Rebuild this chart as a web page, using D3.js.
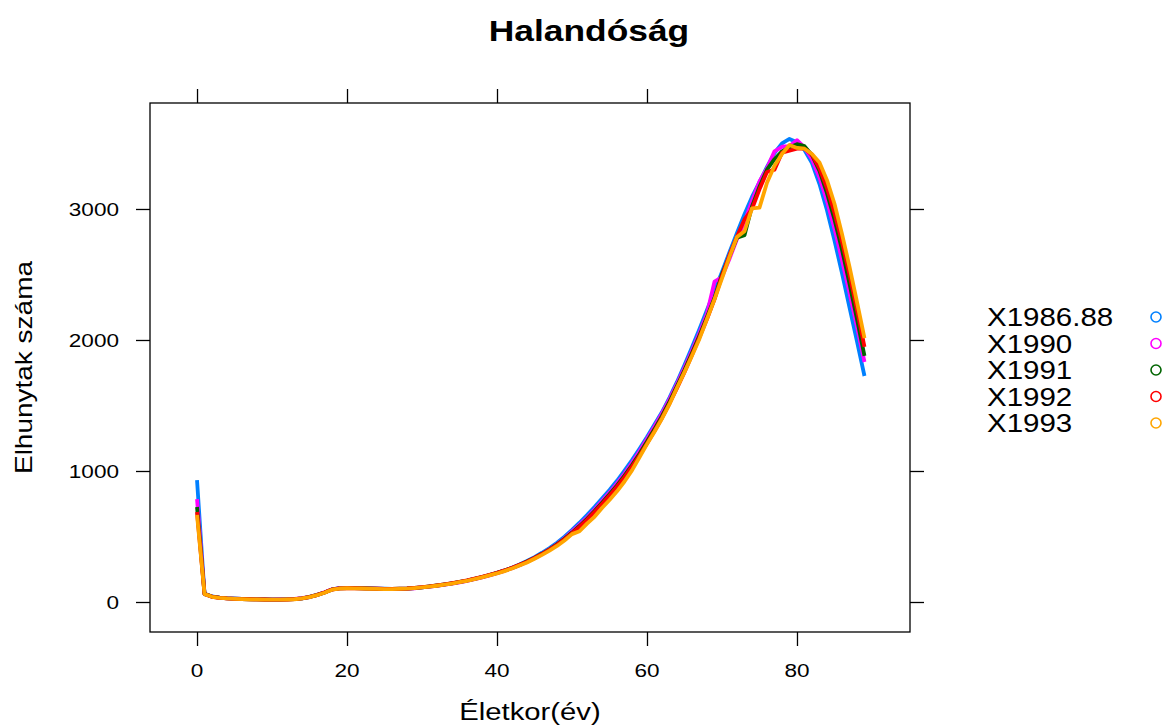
<!DOCTYPE html>
<html>
<head>
<meta charset="utf-8">
<script src="https://cdn.jsdelivr.net/npm/d3@7"></script>
<style>
  html, body { margin: 0; padding: 0; background: #fff; }
  svg { display: block; }
  text { font-family: "Liberation Sans", Arial, Helvetica, sans-serif; fill: #000; }
</style>
</head>
<body>
<svg id="chart" width="1167" height="727"></svg>
<script>
const title = "Halandóság";
const xLabel = "Életkor(év)";
const yLabel = "Elhunytak száma";
const xTicks = [0, 20, 40, 60, 80];
const yTicks = [0, 1000, 2000, 3000];
const seriesNames = ["X1986.88", "X1990", "X1991", "X1992", "X1993"];
const seriesColors = ["#0080ff", "#ff00ff", "#006400", "#ff0000", "#ffa500"];
const ages = d3.range(0, 90);

const s1986 = [931, 60, 42, 34, 29, 26, 24, 22, 21, 20,
  19, 19, 20, 22, 28, 38, 52, 72, 96, 106,
  108, 107, 106, 104, 102, 101, 100, 100, 102, 106,
  112, 118, 125, 133, 142, 152, 163, 176, 190, 205,
  222, 241, 262, 286, 313, 343, 376, 412, 452, 498,
  550, 605, 663, 725, 790, 855, 925, 1003, 1084, 1170,
  1260, 1355, 1450, 1560, 1680, 1809, 1945, 2085, 2230, 2375,
  2520, 2670, 2817, 2960, 3092, 3206, 3321, 3427, 3500, 3535,
  3510, 3450, 3350, 3190, 2990, 2760, 2510, 2250, 1990, 1725];
const s1990 = [786, 62, 40, 33, 28, 25, 23, 22, 20, 19,
  18, 19, 20, 23, 29, 40, 55, 74, 97, 105,
  107, 106, 105, 103, 101, 100, 99, 100, 101, 105,
  111, 117, 124, 132, 141, 150, 162, 174, 188, 203,
  220, 238, 258, 281, 307, 336, 368, 403, 442, 487,
  538, 590, 645, 706, 770, 835, 905, 980, 1062, 1150,
  1245, 1340, 1440, 1548, 1665, 1790, 1920, 2055, 2200, 2445,
  2480, 2620, 2770, 2900, 3060, 3210, 3310, 3440, 3475, 3480,
  3525, 3470, 3380, 3240, 3060, 2850, 2610, 2360, 2100, 1832];
const s1991 = [725, 63, 41, 33, 28, 25, 23, 21, 20, 19,
  18, 18, 20, 22, 28, 39, 54, 73, 96, 104,
  106, 106, 105, 103, 101, 100, 100, 101, 103, 107,
  112, 119, 126, 134, 143, 153, 164, 177, 191, 206,
  222, 240, 260, 283, 309, 337, 368, 402, 440, 483,
  530, 580, 635, 695, 758, 822, 890, 965, 1045, 1132,
  1225, 1320, 1420, 1530, 1648, 1770, 1900, 2035, 2175, 2320,
  2500, 2640, 2780, 2800, 3020, 3170, 3300, 3380, 3440, 3470,
  3495, 3480, 3410, 3290, 3120, 2920, 2690, 2430, 2160, 1878];
const s1992 = [687, 61, 40, 32, 27, 24, 22, 21, 20, 19,
  18, 18, 19, 22, 27, 38, 53, 72, 95, 104,
  106, 105, 104, 102, 101, 100, 100, 101, 103, 108,
  113, 119, 127, 135, 144, 154, 165, 178, 192, 207,
  223, 241, 261, 284, 308, 336, 366, 400, 437, 479,
  525, 573, 627, 686, 748, 812, 880, 953, 1033, 1118,
  1210, 1305, 1405, 1515, 1632, 1755, 1885, 2020, 2160, 2310,
  2490, 2650, 2790, 2920, 3000, 3150, 3282, 3300, 3430, 3445,
  3460, 3460, 3415, 3310, 3160, 2970, 2750, 2500, 2230, 1947];
const s1993 = [665, 60, 40, 32, 27, 24, 22, 20, 19, 18,
  18, 18, 19, 21, 27, 37, 52, 71, 94, 103,
  105, 104, 103, 101, 100, 99, 99, 100, 102, 106,
  111, 117, 124, 132, 141, 151, 162, 174, 188, 203,
  218, 236, 256, 278, 302, 330, 360, 392, 428, 470,
  518, 540, 598, 650, 718, 779, 845, 920, 1005, 1105,
  1205, 1300, 1400, 1510, 1635, 1755, 1880, 2010, 2160, 2310,
  2470, 2634, 2786, 2830, 3005, 3010, 3200, 3330, 3420, 3489,
  3466, 3460, 3420, 3355, 3220, 3040, 2810, 2560, 2290, 2015];
const seriesValues = [s1986, s1990, s1991, s1992, s1993];

const svg = d3.select("#chart");
const P = { left: 150, right: 910, top: 103, bottom: 632 };
const SX = 1.22; // horizontal stretch of glyphs

const x = d3.scaleLinear().domain([-6.27, 95.07]).range([P.left, P.right]);
const y = d3.scaleLinear().domain([-229, 3809]).range([P.bottom, P.top]);

function stext(g, str, tx, ty, size, anchor, weight, sx) {
  return g.append("text")
    .attr("transform", `translate(${tx},${ty}) scale(${sx || SX},1)`)
    .attr("text-anchor", anchor)
    .attr("font-size", size)
    .attr("font-weight", weight || "normal")
    .text(str);
}

// Title
stext(svg, title, 589, 41, 29, "middle", "bold");

// Axes (ticks only, labels drawn below)
const tickLen = 14;
svg.append("g").attr("transform", `translate(0,${P.bottom})`)
  .call(d3.axisBottom(x).tickValues(xTicks).tickSize(tickLen).tickFormat(""))
  .call(g => g.select(".domain").remove());
svg.append("g").attr("transform", `translate(0,${P.top})`)
  .call(d3.axisTop(x).tickValues(xTicks).tickSize(tickLen).tickFormat(""))
  .call(g => g.select(".domain").remove());
svg.append("g").attr("transform", `translate(${P.left},0)`)
  .call(d3.axisLeft(y).tickValues(yTicks).tickSize(tickLen).tickFormat(""))
  .call(g => g.select(".domain").remove());
svg.append("g").attr("transform", `translate(${P.right},0)`)
  .call(d3.axisRight(y).tickValues(yTicks).tickSize(tickLen).tickFormat(""))
  .call(g => g.select(".domain").remove());
svg.selectAll(".tick line").attr("stroke", "#000").attr("stroke-width", 1.3);

// Tick labels
const lab = svg.append("g");
xTicks.forEach(t => stext(lab, String(t), x(t), 677, 18.5, "middle"));
yTicks.forEach(t => stext(lab, String(t), 119, y(t) + 7, 18.5, "end"));

// Axis titles
stext(svg, xLabel, (P.left + P.right) / 2, 720, 24, "middle");
svg.append("text")
  .attr("transform", `translate(32,${(P.top + P.bottom) / 2}) rotate(-90)`)
  .attr("text-anchor", "middle")
  .attr("font-size", 24)
  .attr("textLength", 213)
  .attr("lengthAdjust", "spacingAndGlyphs")
  .text(yLabel);

// Lines
svg.append("clipPath").attr("id", "pc").append("rect")
  .attr("x", P.left).attr("y", P.top).attr("width", P.right - P.left).attr("height", P.bottom - P.top);
const line = d3.line().x((d, i) => x(ages[i])).y(d => y(d));
const lg = svg.append("g").attr("clip-path", "url(#pc)");
seriesValues.forEach((vals, k) => {
  lg.append("path")
    .attr("d", line(vals))
    .attr("fill", "none")
    .attr("stroke", seriesColors[k])
    .attr("stroke-width", 3.8)
    .attr("stroke-linejoin", "round");
});

// Panel border
svg.append("rect")
  .attr("x", P.left).attr("y", P.top)
  .attr("width", P.right - P.left).attr("height", P.bottom - P.top)
  .attr("fill", "none").attr("stroke", "#000").attr("stroke-width", 1.3);

// Legend
const leg = svg.append("g");
seriesNames.forEach((n, k) => {
  const cy = 317 + k * 26.5;
  stext(leg, n, 987, cy + 9, 25, "start", "normal", 1.18);
  leg.append("circle")
    .attr("cx", 1156).attr("cy", cy).attr("r", 5)
    .attr("fill", "none").attr("stroke", seriesColors[k]).attr("stroke-width", 1.6);
});
</script>
</body>
</html>
